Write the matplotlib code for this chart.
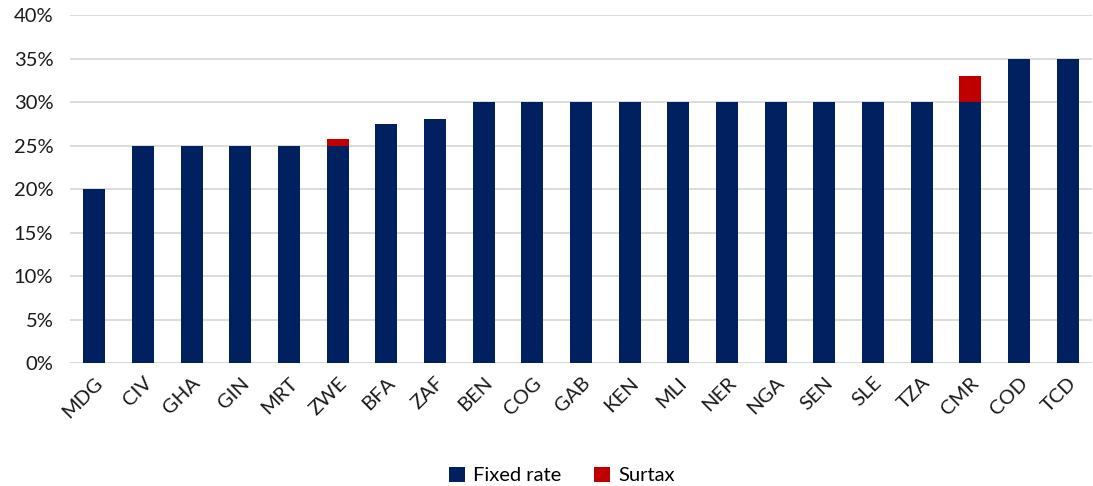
import matplotlib
matplotlib.use("Agg")
import matplotlib.pyplot as plt
from matplotlib.ticker import PercentFormatter

# Data (percent)
countries = ["MDG", "CIV", "GHA", "GIN", "MRT", "ZWE", "BFA", "ZAF", "BEN", "COG", "GAB",
             "KEN", "MLI", "NER", "NGA", "SEN", "SLE", "TZA", "CMR", "COD", "TCD"]
fixed_rate = [20, 25, 25, 25, 25, 25, 27.5, 28, 30, 30, 30,
              30, 30, 30, 30, 30, 30, 30, 30, 35, 35]
surtax = [0, 0, 0, 0, 0, 0.75, 0, 0, 0, 0, 0,
          0, 0, 0, 0, 0, 0, 0, 3, 0, 0]

plt.rcParams['font.family'] = ['Lato', 'DejaVu Sans']

fig = plt.figure(figsize=(10.93, 4.86), dpi=100)
ax = fig.add_axes([0.064, 0.253, 0.935, 0.716])

x = range(len(countries))
ax.bar(x, fixed_rate, width=0.45, color="#002060", label="Fixed rate", zorder=3)
ax.bar(x, surtax, width=0.45, bottom=fixed_rate, color="#c00000", label="Surtax", zorder=3)

ax.set_ylim(0, 40)
ax.set_xlim(-0.5, len(countries) - 0.5)
ax.set_yticks(range(0, 41, 5))
ax.yaxis.set_major_formatter(PercentFormatter(decimals=0))
ax.grid(axis="y", color="#d9d9d9", linewidth=1.3, zorder=0)
ax.set_xticks(list(x))
ax.set_xticklabels(countries, rotation=45, ha="right", rotation_mode="anchor")
ax.tick_params(axis="both", length=0, labelsize=14.5, colors="#1a1a1a")
ax.tick_params(axis="x", pad=8)
ax.tick_params(axis="y", pad=12)
for s in ax.spines.values():
    s.set_visible(False)
ax.axhline(0, color="#d9d9d9", linewidth=1.3, zorder=2)

fig.legend(loc="lower center", bbox_to_anchor=(0.514, -0.034), ncol=2, frameon=False,
           fontsize=14.5, handlelength=0.8, handleheight=0.8, columnspacing=1.6,
           handletextpad=0.4)

fig.savefig("out.png", dpi=100)
